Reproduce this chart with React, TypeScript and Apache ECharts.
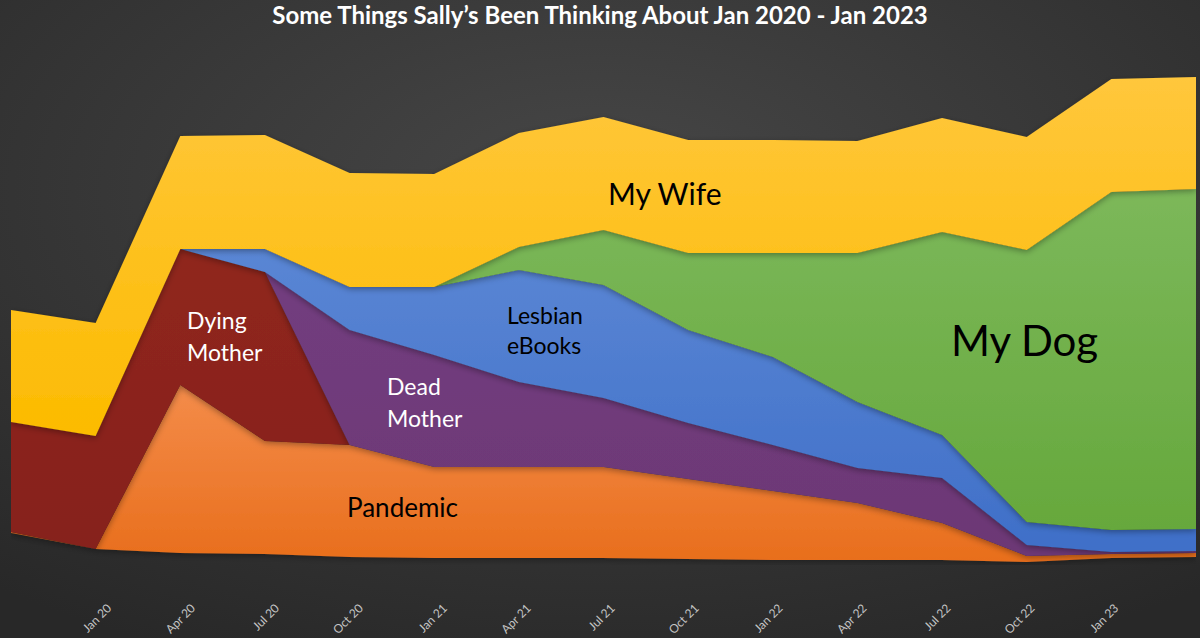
import { useEffect, useRef } from 'react';
import * as echarts from 'echarts';

// quarters, Oct 19 .. Apr 23 (first and last are not labelled)
const months = [
  'Oct 19', 'Jan 20', 'Apr 20', 'Jul 20', 'Oct 20', 'Jan 21', 'Apr 21', 'Jul 21',
  'Oct 21', 'Jan 22', 'Apr 22', 'Jul 22', 'Oct 22', 'Jan 23', 'Apr 23',
];

// the original has a slightly tilted floor, kept as an invisible bottom layer
const floorOffset = [32, 16, 12, 11, 8, 7, 7, 7, 6, 5, 5, 5, 3, 7, 8];
const pandemic = [1, 0, 168, 113, 112, 91, 91, 91, 80, 69, 57, 37, 6, 4, 4];
const dyingMother = [110, 113, 136, 169, 0, 0, 0, 0, 0, 0, 0, 0, 0, 0, 0];
const deadMother = [0, 0, 0, 0, 115, 112, 85, 69, 56, 46, 35, 45, 11, 2, 2];
const lesbianEbooks = [0, 0, 0, 23, 43, 68, 112, 113, 93, 88, 66, 43, 23, 22, 22];
const myDog = [0, 0, 0, 0, 0, 0, 23, 55, 77, 104, 149, 203, 272, 338, 340];
const myWife = [112, 113, 113, 114, 114, 113, 114, 113, 113, 113, 112, 114, 113, 113, 112];

const FONT = 'Lato, "Open Sans", sans-serif';

const grad = (top: string, bottom: string) =>
  new echarts.graphic.LinearGradient(0, 0, 0, 1, [
    { offset: 0, color: top },
    { offset: 1, color: bottom },
  ]);

const layer = (name: string, data: number[], top: string, bottom: string) => ({
  name,
  type: 'line',
  stack: 'total',
  data,
  symbol: 'none',
  silent: true,
  lineStyle: { width: 0 },
  areaStyle: {
    color: grad(top, bottom),
    opacity: 1,
    shadowBlur: 6,
    shadowColor: 'rgba(0,0,0,0.35)',
    shadowOffsetY: 2,
  },
});

const note = (text: string, left: number, top: number, size: number, fill: string, lineHeight: number) => ({
  type: 'text',
  left,
  top,
  z: 100,
  style: {
    text,
    fill,
    font: `${size}px ${FONT}`,
    lineHeight,
    verticalAlign: 'top',
  },
});

export default function App() {
  const chartRef = useRef<HTMLDivElement>(null);

  useEffect(() => {
    if (!chartRef.current) return;
    const chart = echarts.init(chartRef.current, null, { renderer: 'svg' });

    const option = {
      animation: false,
      backgroundColor: {
        type: 'radial',
        x: 0.5,
        y: 0.3,
        r: 0.8,
        colorStops: [
          { offset: 0, color: '#474747' },
          { offset: 1, color: '#282828' },
        ],
      },
      title: {
        text: 'Some Things Sally\u2019s Been Thinking About Jan 2020 - Jan 2023',
        left: 'center',
        top: 2,
        padding: 0,
        textStyle: { color: '#ffffff', fontFamily: FONT, fontSize: 24, fontWeight: 'bold' },
      },
      // second grid only carries the tick labels, which sit a little right of the points
      grid: [
        { left: 11, right: 4, top: 65, bottom: 73 },
        { left: 25, width: 1185, top: 65, bottom: 73 },
      ],
      xAxis: [
        {
          type: 'category',
          data: months,
          boundaryGap: false,
          axisLine: { show: false },
          axisTick: { show: false },
          axisLabel: { show: false },
          splitLine: { show: false },
        },
        {
          type: 'category',
          gridIndex: 1,
          data: months,
          boundaryGap: false,
          axisLine: { show: false },
          axisTick: { show: false },
          axisLabel: {
            rotate: 45,
            margin: 45,
            color: '#c4c4c4',
            fontFamily: FONT,
            fontSize: 12,
            interval: (i: number) => i > 0 && i < months.length - 1,
          },
          splitLine: { show: false },
        },
      ],
      yAxis: [
        { type: 'value', min: 0, max: 500, show: false, splitLine: { show: false } },
        { type: 'value', gridIndex: 1, min: 0, max: 500, show: false, splitLine: { show: false } },
      ],
      series: [
        {
          name: 'floor',
          type: 'line',
          stack: 'total',
          data: floorOffset,
          symbol: 'none',
          silent: true,
          lineStyle: { width: 0 },
          areaStyle: { opacity: 0 },
        },
        layer('Pandemic', pandemic, '#f48c4a', '#e86e1c'),
        layer('Dying Mother', dyingMother, '#90261b', '#86211a'),
        layer('Dead Mother', deadMother, '#733d80', '#6c3875'),
        layer('Lesbian eBooks', lesbianEbooks, '#5a86d4', '#3f6fc8'),
        layer('My Dog', myDog, '#7cb85a', '#66a83c'),
        layer('My Wife', myWife, '#ffc73c', '#fcbb00'),
      ],
      graphic: [
        note('My Wife', 608, 176, 30, '#000', 34),
        note('My Dog', 951, 318, 42, '#000', 44),
        note('Lesbian\neBooks', 507, 300, 23, '#000', 30),
        note('Dead\nMother', 387, 370, 23, '#fff', 32),
        note('Dying\nMother', 187, 304, 23, '#fff', 32),
        note('Pandemic', 347, 493, 26, '#000', 28),
      ],
    };

    chart.setOption(option as any);
    return () => chart.dispose();
  }, []);

  return (
    <div
      ref={chartRef}
      style={{ position: 'absolute', left: 0, top: 0, width: '1200px', height: '638px' }}
    />
  );
}
